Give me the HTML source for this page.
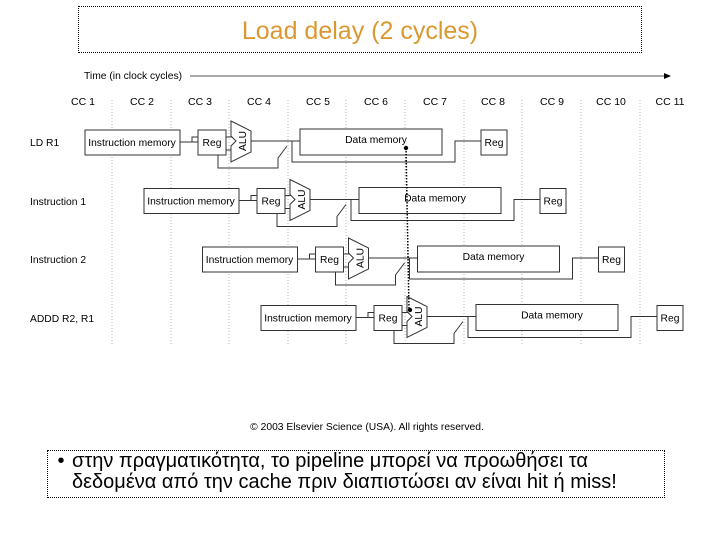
<!DOCTYPE html>
<html><head><meta charset="utf-8"><style>
body{margin:0;background:#fff;width:720px;height:540px;overflow:hidden;position:relative;font-family:"Liberation Sans","DejaVu Sans",sans-serif}
.t{position:absolute;left:78px;top:6px;width:562px;height:45px;border:1px dotted #000;color:#dc9830;font-size:25px;text-align:center;line-height:48px}
.b{position:absolute;left:47px;top:450px;width:616px;height:46px;border:1px dotted #000;font-size:20px;line-height:21px;color:#000}
</style></head><body>
<div class="t">Load delay (2 cycles)</div>
<svg width="720" height="540" style="position:absolute;left:0;top:0" font-family="Liberation Sans, sans-serif">
<text x="84" y="79" font-size="10.3">Time (in clock cycles)</text>
<line x1="190" y1="76" x2="664" y2="76" stroke="#555" stroke-width="1"/>
<polygon points="664,73 671,76 664,79" fill="#000"/>
<g font-size="10.5" text-anchor="middle">
<text x="83" y="105">CC 1</text><text x="142" y="105">CC 2</text><text x="200" y="105">CC 3</text><text x="259" y="105">CC 4</text><text x="318" y="105">CC 5</text><text x="376" y="105">CC 6</text><text x="435" y="105">CC 7</text><text x="493" y="105">CC 8</text><text x="552" y="105">CC 9</text><text x="611" y="105">CC 10</text><text x="670" y="105">CC 11</text>
</g>
<g stroke="#999" stroke-width="0.7" stroke-dasharray="1,2">
<line x1="112" y1="100" x2="112" y2="345"/><line x1="171" y1="100" x2="171" y2="345"/><line x1="229" y1="100" x2="229" y2="345"/><line x1="288" y1="100" x2="288" y2="345"/><line x1="346" y1="100" x2="346" y2="345"/><line x1="405" y1="100" x2="405" y2="345"/><line x1="464" y1="100" x2="464" y2="345"/><line x1="522" y1="100" x2="522" y2="345"/><line x1="581" y1="100" x2="581" y2="345"/><line x1="640" y1="100" x2="640" y2="345"/>
</g>
<g font-size="10.3">
<text x="30" y="146">LD R1</text><text x="30" y="205">Instruction 1</text><text x="30" y="263">Instruction 2</text><text x="30" y="322">ADDD R2, R1</text>
</g>
<defs>
<g id="row">
<g fill="#fff" stroke="#333" stroke-width="1">
<polyline points="180,142 198,142" fill="none"/>
<polyline points="192,142 192,137 198,137" fill="none"/>
<rect x="85" y="130" width="95" height="25"/>
<rect x="198" y="130" width="28" height="25"/>
<polyline points="226,137 236,137" fill="none"/>
<polyline points="226,150 236,150" fill="none"/>
<polyline points="218,155 218,168 278,168 278,158 287,146" fill="none"/>
<polygon points="231,121 251,131 251,152 231,162 231,146 236,141 231,136"/>
<polyline points="251,141 288,141 300,141" fill="none"/>
<polyline points="292,141 292,162 455,162 455,141 481,141" fill="none"/>
<rect x="300" y="129" width="142" height="26"/>
<rect x="481" y="130" width="26" height="25"/>
</g>
<g font-size="10.3" fill="#000">
<text x="132" y="146" text-anchor="middle">Instruction memory</text>
<text x="212" y="146" text-anchor="middle">Reg</text>
<text x="376" y="143" text-anchor="middle">Data memory</text>
<text x="494" y="146" text-anchor="middle">Reg</text>
<text transform="translate(246,141) rotate(-90)" text-anchor="middle">ALU</text>
</g>
</g>
</defs>
<use href="#row"/>
<use href="#row" transform="translate(59,58.5)"/>
<use href="#row" transform="translate(117.5,117)"/>
<use href="#row" transform="translate(176,175.5)"/>
<line x1="406" y1="148" x2="409" y2="310" stroke="#000" stroke-width="1.5" stroke-dasharray="1.5,1.5"/>
<circle cx="406" cy="148" r="2.2"/><circle cx="410" cy="310" r="2.2"/>
<text x="367" y="430" font-size="10.3" text-anchor="middle">© 2003 Elsevier Science (USA). All rights reserved.</text>
</svg>
<div class="b"><span style="display:inline-block;width:22px;text-align:center;margin-left:2px">•</span>στην πραγματικότητα, το pipeline μπορεί να προωθήσει τα<br><span style="margin-left:24px">δεδομένα από την cache πριν διαπιστώσει αν είναι hit ή miss!</span></div>
</body></html>
